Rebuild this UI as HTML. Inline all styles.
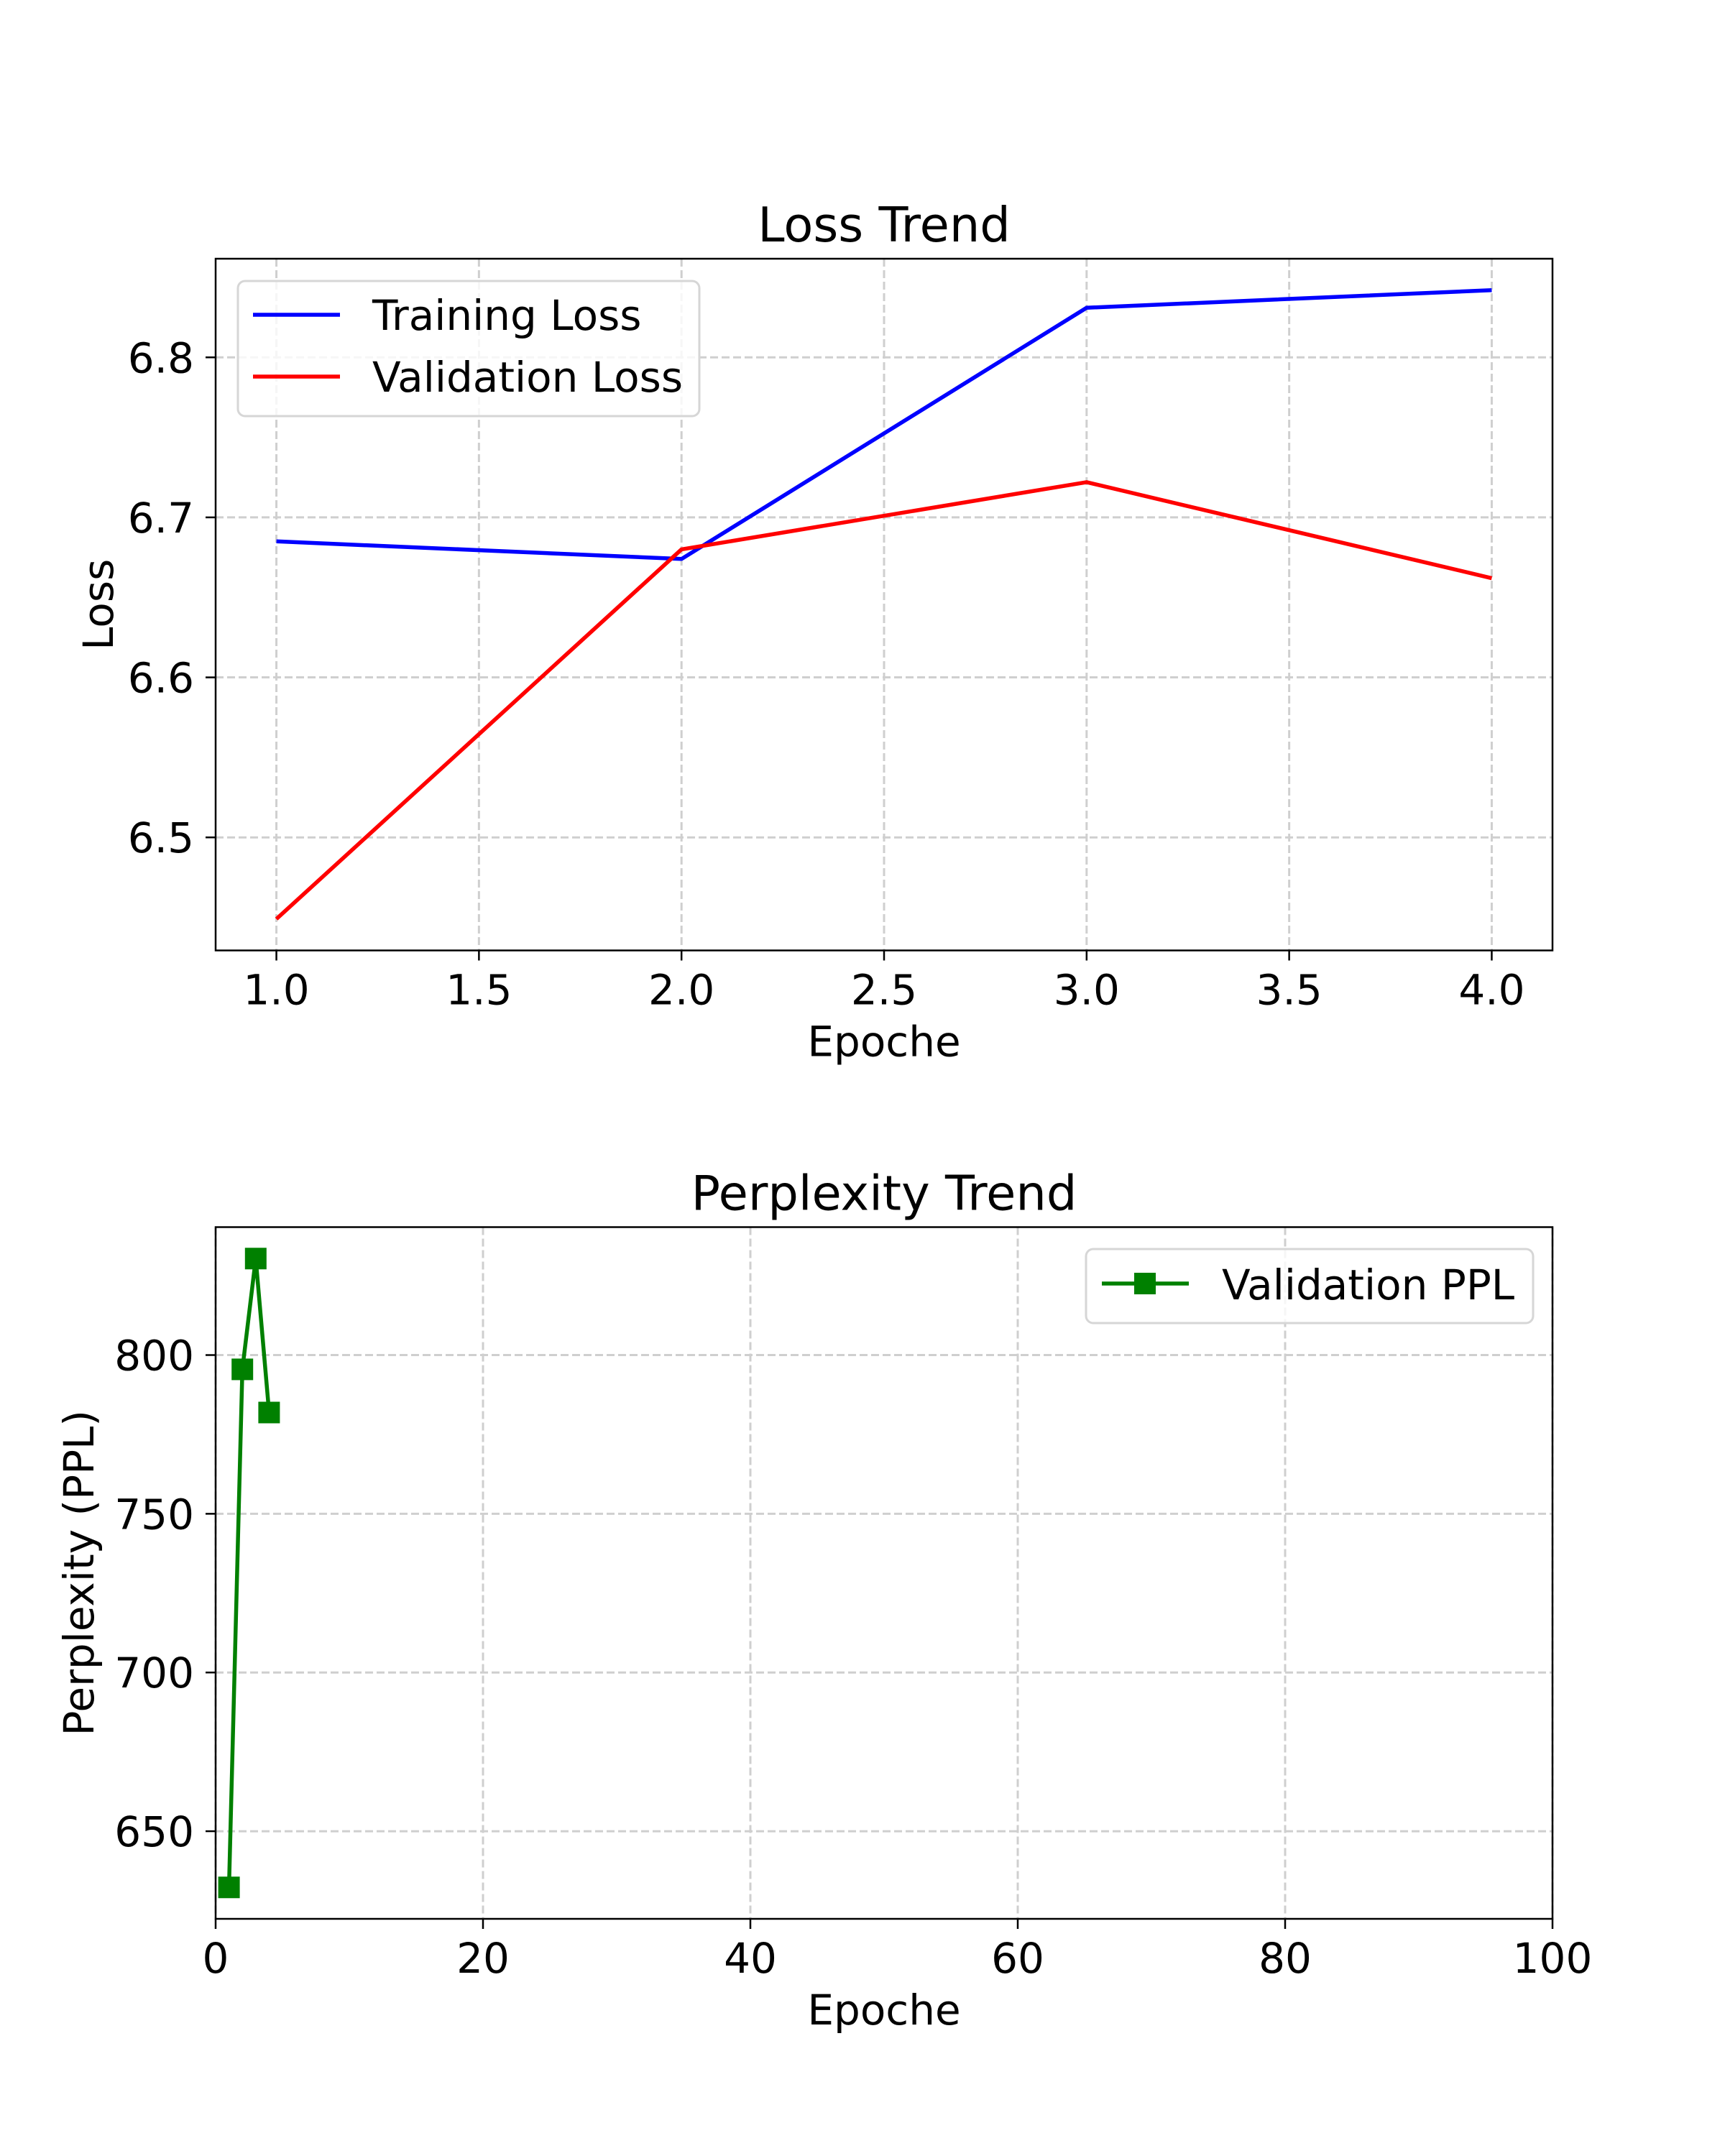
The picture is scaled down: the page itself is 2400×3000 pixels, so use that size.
<!DOCTYPE html>
<html><head><meta charset="utf-8"><style>
html,body{margin:0;padding:0;background:#fff}
svg{display:block}
text{font-family:"DejaVu Sans","Liberation Sans",sans-serif;fill:#000}
</style></head><body>
<svg id="fig" width="2400" height="3000" viewBox="0 0 2400 3000" xmlns="http://www.w3.org/2000/svg">
<rect width="2400" height="3000" fill="#fff"/>
<g id="top"></g>
<g id="bot"></g>
</svg>
<script>
const epochs = [1, 2, 3, 4];
const trainLoss = [6.685, 6.674, 6.831, 6.842];
const valLoss = [6.449, 6.680, 6.722, 6.662];
const lossXTicks = [1.0, 1.5, 2.0, 2.5, 3.0, 3.5, 4.0];
const lossYTicks = [6.5, 6.6, 6.7, 6.8];
const pplEpochs = [1, 2, 3, 4];
const valPPL = [632.3, 795.5, 830.4, 781.9];
const pplXTicks = [0, 20, 40, 60, 80, 100];
const pplYTicks = [650, 700, 750, 800];

const NS = 'http://www.w3.org/2000/svg';
function mk(parent, tag, attrs, txt) {
  const e = document.createElementNS(NS, tag);
  for (const k in attrs) e.setAttribute(k, attrs[k]);
  if (txt !== undefined) e.textContent = txt;
  parent.appendChild(e);
  return e;
}
const L = 300, R = 2160, FS = 58, LW = 5.5;

function drawAxes(g, top, bottom, xmin, xmax, ymin, ymax, xt, yt, xfmt, yfmt, title, ylabel, ylabX) {
  const X = v => L + (v - xmin) / (xmax - xmin) * (R - L);
  const Y = v => bottom - (v - ymin) / (ymax - ymin) * (bottom - top);
  xt.forEach(v => {
    const gl = mk(g, 'line', {x1: X(v), x2: X(v), y1: top, y2: bottom, stroke: '#cfcfcf', 'stroke-width': 3, 'stroke-dasharray': '11,5'});
    
    
    const tk = mk(g, 'line', {x1: X(v), x2: X(v), y1: bottom, y2: bottom + 14, stroke: '#000', 'stroke-width': 2.5});
    
    
    const tl = mk(g, 'text', {x: X(v), y: bottom + 75, 'font-size': FS, 'text-anchor': 'middle'}, xfmt(v));
    
    
  });
  yt.forEach(v => {
    const gl = mk(g, 'line', {x1: L, x2: R, y1: Y(v), y2: Y(v), stroke: '#cfcfcf', 'stroke-width': 3, 'stroke-dasharray': '11,5'});
    
    
    const tk = mk(g, 'line', {x1: L - 14, x2: L, y1: Y(v), y2: Y(v), stroke: '#000', 'stroke-width': 2.5});
    
    
    const tl = mk(g, 'text', {x: L - 30, y: Y(v) + 21, 'font-size': FS, 'text-anchor': 'end'}, yfmt(v));
    
    
  });
  const t = mk(g, 'text', {x: (L + R) / 2, y: top - 24, 'font-size': 67, 'text-anchor': 'middle'}, title);
  
  
  const xl = mk(g, 'text', {x: (L + R) / 2, y: bottom + 147, 'font-size': FS, 'text-anchor': 'middle'}, 'Epoche');
  
  
  const cy = (top + bottom) / 2;
  const yl = mk(g, 'text', {x: ylabX, y: cy, 'font-size': FS, 'text-anchor': 'middle', transform: `rotate(-90 ${ylabX} ${cy})`}, ylabel);
  
  
  return {X, Y};
}
function frame(g, top, bottom) {
  const f = mk(g, 'rect', {x: L, y: top, width: R - L, height: bottom - top, fill: 'none', stroke: '#000', 'stroke-width': 2.5});
  
  
}
function pts(xs, ys, X, Y) { return xs.map((x, i) => X(x) + ',' + Y(ys[i])).join(' '); }

// Top chart
const gt = document.getElementById('top');
const tTop = 360, tBot = 1322.5;
const allL = trainLoss.concat(valLoss);
const lmin = Math.min(...allL), lmax = Math.max(...allL), lr = lmax - lmin;
const xa = drawAxes(gt, tTop, tBot, 0.85, 4.15, lmin - 0.05 * lr, lmax + 0.05 * lr, lossXTicks, lossYTicks,
  v => v.toFixed(1), v => v.toFixed(1), 'Loss Trend', 'Loss', 157);
const tl1 = mk(gt, 'polyline', {points: pts(epochs, trainLoss, xa.X, xa.Y), fill: 'none', stroke: '#0000ff', 'stroke-width': LW, 'stroke-linejoin': 'round'});


const vl1 = mk(gt, 'polyline', {points: pts(epochs, valLoss, xa.X, xa.Y), fill: 'none', stroke: '#ff0000', 'stroke-width': LW, 'stroke-linejoin': 'round'});


frame(gt, tTop, tBot);
const lg = mk(gt, 'g', {});


mk(lg, 'rect', {x: 331, y: 391, width: 642, height: 188, rx: 10, fill: 'rgba(255,255,255,0.8)', stroke: '#d6d6d6', 'stroke-width': 3});
mk(lg, 'line', {x1: 352, x2: 473, y1: 438, y2: 438, stroke: '#0000ff', 'stroke-width': LW});
const le1 = mk(lg, 'text', {x: 518, y: 459, 'font-size': FS}, 'Training Loss');


mk(lg, 'line', {x1: 352, x2: 473, y1: 524, y2: 524, stroke: '#ff0000', 'stroke-width': LW});
const le2 = mk(lg, 'text', {x: 518, y: 545, 'font-size': FS}, 'Validation Loss');



// Bottom chart
const gb = document.getElementById('bot');
const bTop = 1707.5, bBot = 2670;
const pmin = Math.min(...valPPL), pmax = Math.max(...valPPL), pr = pmax - pmin;
const xb = drawAxes(gb, bTop, bBot, 0, 100, pmin - 0.05 * pr, pmax + 0.05 * pr, pplXTicks, pplYTicks,
  v => String(v), v => String(v), 'Perplexity Trend', 'Perplexity (PPL)', 130);
const pl = mk(gb, 'polyline', {points: pts(pplEpochs, valPPL, xb.X, xb.Y), fill: 'none', stroke: '#008000', 'stroke-width': LW, 'stroke-linejoin': 'round'});


pplEpochs.forEach((e, i) => {
  const m = mk(gb, 'rect', {x: xb.X(e) - 15, y: xb.Y(valPPL[i]) - 15, width: 30, height: 30, fill: '#008000'});
  
  
});
frame(gb, bTop, bBot);
const lg2 = mk(gb, 'g', {});


mk(lg2, 'rect', {x: 1511, y: 1738, width: 622, height: 103, rx: 10, fill: 'rgba(255,255,255,0.8)', stroke: '#d6d6d6', 'stroke-width': 3});
mk(lg2, 'line', {x1: 1533, x2: 1654, y1: 1786, y2: 1786, stroke: '#008000', 'stroke-width': LW});
mk(lg2, 'rect', {x: 1578, y: 1771, width: 30, height: 30, fill: '#008000'});
const le3 = mk(lg2, 'text', {x: 1700, y: 1808, 'font-size': FS}, 'Validation PPL');


</script>
</body></html>
